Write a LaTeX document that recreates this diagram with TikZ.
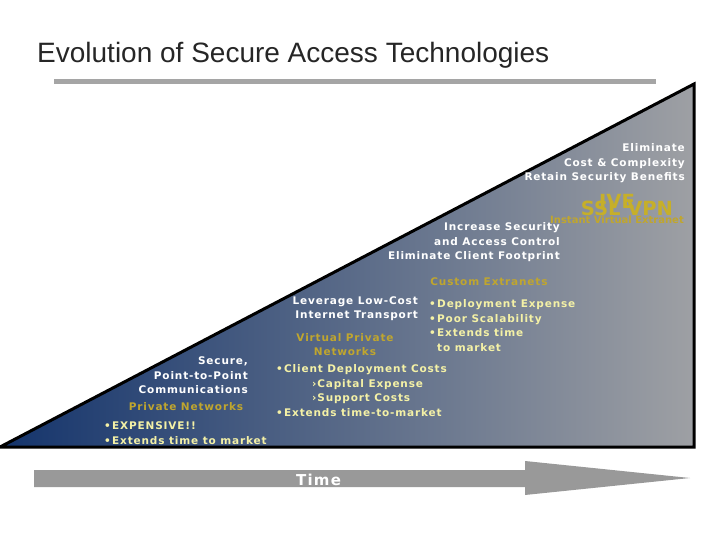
\documentclass[tikz,border=0pt]{standalone}
\usepackage{fontspec}
\setmainfont{Liberation Sans}
\newfontfamily\slidefont{DejaVu Sans Bold}[LetterSpace=8]
\newfontfamily\goldfont{DejaVu Sans Bold}
\definecolor{navy}{HTML}{14346C}
\definecolor{steel}{HTML}{9EA0A4}
\definecolor{bar}{HTML}{999999}
\definecolor{rule}{HTML}{A5A5A5}
\definecolor{gold}{HTML}{C0A62E}
\definecolor{pale}{HTML}{F4F1A6}
\newcommand{\itm}[1]{\makebox[8pt][l]{\textbullet}#1}
\tikzset{
  body/.style={font=\slidefont\fontsize{10.5}{14.5}\selectfont, inner sep=0pt},
  claim/.style={body, text=white, align=right, anchor=east},
  era/.style={body, text=gold, align=center},
  cost/.style={body, text=pale, align=left, anchor=west}
}
\begin{document}
\begin{tikzpicture}[x=1pt, y=-1pt]
    \useasboundingbox (0,0) rectangle (720,540);

    \node [anchor=base west, inner sep=0pt, font=\fontsize{28}{32}\selectfont, text=black!85] (title) at (37,63) {Evolution of Secure Access Technologies};
    \fill [rule] (54,79) rectangle (656,84);

    % the wedge
    \path [left color=navy, right color=steel, draw=black, line width=3pt, miter limit=2]
      (0,447) -- (694,84) -- (694,447) -- cycle;

    % the time arrow
    \fill [bar] (34,470) -- (525,470) -- (525,461) -- (690,478) -- (525,495) -- (525,487) -- (34,487) -- cycle;
    \node [anchor=west, inner sep=0pt, text=white, font=\slidefont\fontsize{15}{18}\selectfont] (time) at (296,480) {Time};

    \node [claim] (eliminate) at (685,163.5) {Eliminate\\Cost \& Complexity\\Retain Security Benefits};
    \node [era, font=\goldfont\fontsize{19.5}{20}\selectfont, text=gold!90!yellow, anchor=center] (ive) at (617,201) {IVE};
    \node [era, font=\goldfont\fontsize{19.5}{20}\selectfont, text=gold!90!yellow, anchor=center] (sslvpn) at (627,208) {SSL VPN};
    \node [era, font=\goldfont\fontsize{10}{10}\selectfont, anchor=east] (instant) at (684,220) {Instant Virtual Extranet};

    \node [claim] (increase) at (560,242.5) {Increase Security\\and Access Control\\Eliminate Client Footprint};
    \node [era] (custom) at (489,282) {Custom Extranets};
    \node [claim] (leverage) at (418,308.5) {Leverage Low-Cost\\Internet Transport};
    \node [cost] (deploy) at (429,325.5) {\itm{Deployment Expense}\\\itm{Poor Scalability}\\\itm{Extends time}\\\hspace*{8pt}to market};

    \node [era] (vpn) at (345,344.5) {Virtual Private\\Networks};
    \node [cost] (client) at (276,390.5) {\itm{Client Deployment Costs}\\\hspace*{36pt}›Capital Expense\\\hspace*{36pt}›Support Costs\\\itm{Extends time-to-market}};

    \node [claim] (secure) at (248,375.5) {Secure,\\Point-to-Point\\Communications};
    \node [era] (private) at (186,407) {Private Networks};
    \node [cost] (expensive) at (104,433) {\itm{EXPENSIVE!!}\\\itm{Extends time to market}};
\end{tikzpicture}
\end{document}
